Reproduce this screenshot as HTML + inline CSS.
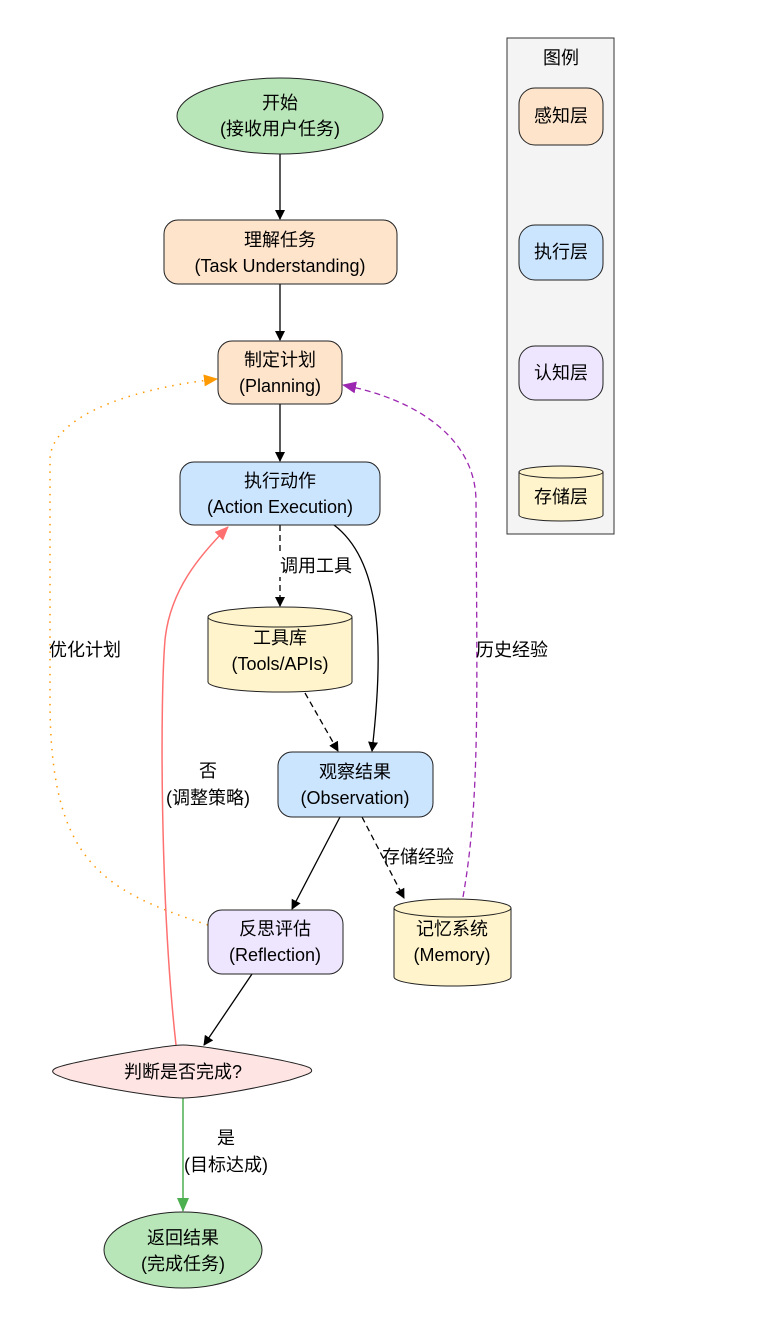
<!DOCTYPE html>
<html><head><meta charset="utf-8"><style>
html,body{margin:0;padding:0;background:#fff;}
svg text{font-family:"Liberation Sans","Noto Sans CJK SC",sans-serif;font-size:18px;fill:#000;text-anchor:middle;}
</style></head><body>
<svg width="764" height="1326" viewBox="0 0 764 1326" xmlns="http://www.w3.org/2000/svg">
<defs>
<marker id="ab" markerWidth="10" markerHeight="10" refX="9" refY="5" orient="auto" markerUnits="userSpaceOnUse" viewBox="0 0 10 10"><path d="M0,0 L10,5 L0,10 z" fill="#000"/></marker>
<marker id="ao" markerWidth="14" markerHeight="14" refX="13" refY="7" orient="auto" markerUnits="userSpaceOnUse" viewBox="0 0 14 14"><path d="M0,1 L14,7 L0,13 z" fill="#f90"/></marker>
<marker id="ap" markerWidth="14" markerHeight="14" refX="13" refY="7" orient="auto" markerUnits="userSpaceOnUse" viewBox="0 0 14 14"><path d="M0,1 L14,7 L0,13 z" fill="#9c27b0"/></marker>
<marker id="ar" markerWidth="14" markerHeight="14" refX="13" refY="7" orient="auto" markerUnits="userSpaceOnUse" viewBox="0 0 14 14"><path d="M0,1 L14,7 L0,13 z" fill="#ff7070"/></marker>
<marker id="ag" markerWidth="14" markerHeight="14" refX="13" refY="7" orient="auto" markerUnits="userSpaceOnUse" viewBox="0 0 14 14"><path d="M0,1 L14,7 L0,13 z" fill="#4caf50"/></marker>
</defs>
<!-- legend -->
<rect x="507" y="38" width="107" height="496" fill="#f4f4f4" stroke="#333"/>
<text x="561" y="64">图例</text>
<rect x="519" y="88" width="84" height="57" rx="16" fill="#ffe4cc" stroke="#222"/>
<text x="561" y="122">感知层</text>
<rect x="519" y="225" width="84" height="55" rx="16" fill="#cce5ff" stroke="#222"/>
<text x="561" y="258">执行层</text>
<rect x="519" y="346" width="84" height="54" rx="16" fill="#eee5ff" stroke="#222"/>
<text x="561" y="379">认知层</text>
<path d="M519,472 L519,515 A42,6 0 0 0 603,515 L603,472 A42,6 0 0 0 519,472 A42,6 0 0 0 603,472" fill="#fff4cc" stroke="#222"/>
<text x="561" y="503">存储层</text>

<!-- edges -->
<line x1="280" y1="154" x2="280" y2="219" stroke="#000" stroke-width="1.3" marker-end="url(#ab)"/>
<line x1="280" y1="284" x2="280" y2="340" stroke="#000" stroke-width="1.3" marker-end="url(#ab)"/>
<line x1="280" y1="404" x2="280" y2="461" stroke="#000" stroke-width="1.3" marker-end="url(#ab)"/>
<line x1="280" y1="525" x2="280" y2="606" stroke="#000" stroke-width="1.3" stroke-dasharray="6,4" marker-end="url(#ab)"/>
<rect x="274" y="553" width="86" height="24" fill="#fff"/>
<text x="316" y="572">调用工具</text>
<path d="M334,525 C380,560 385,640 372,751" fill="none" stroke="#000" stroke-width="1.3" marker-end="url(#ab)"/>
<line x1="305" y1="693" x2="338" y2="751" stroke="#000" stroke-width="1.3" stroke-dasharray="6,4" marker-end="url(#ab)"/>
<line x1="340" y1="817" x2="292" y2="909" stroke="#000" stroke-width="1.3" marker-end="url(#ab)"/>
<line x1="362" y1="817" x2="404" y2="898" stroke="#000" stroke-width="1.3" stroke-dasharray="6,4" marker-end="url(#ab)"/>
<text x="418" y="863">存储经验</text>
<path d="M463,897 C480,800 477,700 476,500 C475,440 420,400 343,385" fill="none" stroke="#9c27b0" stroke-width="1.3" stroke-dasharray="6,4" marker-end="url(#ap)"/>
<text x="512" y="656">历史经验</text>
<path d="M208,925 C100,890 50,860 50,700 L50,460 C50,420 120,390 217,379" fill="none" stroke="#f90" stroke-width="1.5" stroke-dasharray="1.5,6" marker-end="url(#ao)"/>
<text x="85" y="656">优化计划</text>
<line x1="252" y1="974" x2="204" y2="1045" stroke="#000" stroke-width="1.3" marker-end="url(#ab)"/>
<path d="M176,1045 C160,900 160,700 165,640 C170,590 200,555 228,527" fill="none" stroke="#ff7070" stroke-width="1.5" marker-end="url(#ar)"/>
<text x="208" y="777">否</text>
<text x="208" y="804">(调整策略)</text>
<line x1="183" y1="1098" x2="183" y2="1211" stroke="#4caf50" stroke-width="1.5" marker-end="url(#ag)"/>
<text x="226" y="1144">是</text>
<text x="226" y="1171">(目标达成)</text>

<!-- nodes -->
<ellipse cx="280" cy="116" rx="103" ry="38" fill="#b8e6b8" stroke="#222"/>
<text x="280" y="109">开始</text>
<text x="280" y="135">(接收用户任务)</text>
<rect x="164" y="220" width="233" height="64" rx="14" fill="#ffe4cc" stroke="#222"/>
<text x="280" y="246">理解任务</text>
<text x="280" y="272">(Task Understanding)</text>
<rect x="218" y="341" width="124" height="63" rx="14" fill="#ffe4cc" stroke="#222"/>
<text x="280" y="366">制定计划</text>
<text x="280" y="392">(Planning)</text>
<rect x="180" y="462" width="200" height="63" rx="14" fill="#cce5ff" stroke="#222"/>
<text x="280" y="487">执行动作</text>
<text x="280" y="513">(Action Execution)</text>
<path d="M208,617 L208,682 A72,10 0 0 0 352,682 L352,617 A72,10 0 0 0 208,617 A72,10 0 0 0 352,617" fill="#fff4cc" stroke="#222"/>
<text x="280" y="644">工具库</text>
<text x="280" y="670">(Tools/APIs)</text>
<rect x="278" y="752" width="155" height="65" rx="14" fill="#cce5ff" stroke="#222"/>
<text x="355" y="778">观察结果</text>
<text x="355" y="804">(Observation)</text>
<rect x="208" y="910" width="135" height="64" rx="14" fill="#eee5ff" stroke="#222"/>
<text x="275" y="935">反思评估</text>
<text x="275" y="961">(Reflection)</text>
<path d="M394,908 L394,977 A58.5,9 0 0 0 511,977 L511,908 A58.5,9 0 0 0 394,908 A58.5,9 0 0 0 511,908" fill="#fff4cc" stroke="#222"/>
<text x="452" y="935">记忆系统</text>
<text x="452" y="961">(Memory)</text>
<path d="M183,1045 C200,1045 300,1062 310,1068 C316,1073 305,1075 290,1080 C250,1090 200,1098 183,1098 C166,1098 110,1090 70,1080 C55,1075 48,1072 56,1068 C70,1062 166,1045 183,1045 z" fill="#ffe4e4" stroke="#222"/>
<text x="183" y="1078">判断是否完成?</text>
<ellipse cx="183" cy="1250" rx="79" ry="38" fill="#b8e6b8" stroke="#222"/>
<text x="183" y="1244">返回结果</text>
<text x="183" y="1270">(完成任务)</text>
</svg>
</body></html>
